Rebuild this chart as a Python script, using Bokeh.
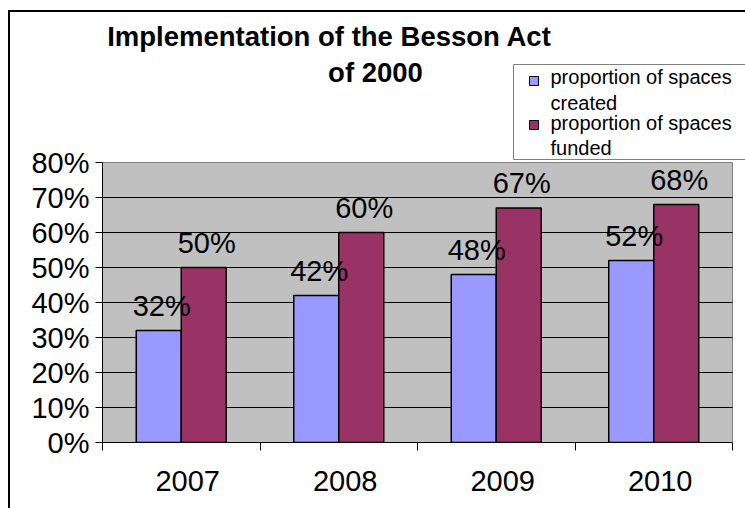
from bokeh.plotting import figure
from bokeh.models import Range1d, FixedTicker, NumeralTickFormatter, Label, BoxAnnotation, ColumnDataSource
from bokeh.core.properties import value
from bokeh.embed import file_html
from bokeh.resources import INLINE

# ---- data ----
years = ["2007", "2008", "2009", "2010"]
created = [0.32, 0.42, 0.48, 0.52]
funded = [0.50, 0.60, 0.67, 0.68]
legend_created = ["proportion of spaces", "created"]
legend_funded = ["proportion of spaces", "funded"]
y_ticks = [0.0, 0.1, 0.2, 0.3, 0.4, 0.5, 0.6, 0.7, 0.8]
grid_ticks = [0.1, 0.2, 0.3, 0.4, 0.5, 0.6, 0.7]
y_max = 0.8
title_lines = ["Implementation of the Besson Act", "of 2000"]

# ---- style / layout ----
FONT = "Liberation Sans"
BLUE = "#9999FF"
MAROON = "#993366"
PLOT_BG = "#C0C0C0"
BAR_W = 1 / 3.5
LABEL_SHIFT = 0.041           # Excel category labels sit slightly right of centre
W, H = 745, 508
LEFT, BOTTOM = 102, 66        # borders around the frame
CAT_PX = 157.5                # pixels per category
AREA_H = 280                  # pixels of the 0..80% plot area

frame_w = W - LEFT
frame_h = H - BOTTOM
n = len(years)
idx = list(range(n))

src = ColumnDataSource(dict(
    x_c=[i + 0.5 - BAR_W / 2 for i in idx],
    x_f=[i + 0.5 + BAR_W / 2 for i in idx],
    created=created,
    funded=funded,
    lab_c=[f"{round(v * 100)}%" for v in created],
    lab_f=[f"{round(v * 100)}%" for v in funded],
))

p = figure(width=W, height=H,
           x_range=Range1d(0, frame_w / CAT_PX),
           y_range=Range1d(0, y_max * frame_h / AREA_H),
           output_backend="svg", toolbar_location=None,
           min_border_left=LEFT, min_border_right=0,
           min_border_top=0, min_border_bottom=BOTTOM)
p.background_fill_color = None
p.border_fill_color = None
p.outline_line_color = None
# outer chart border (left and top edges; the rest lies beyond the window)
p.styles = {"background": "linear-gradient(#000,#000) 8px 10px / 2px 700px no-repeat, "
                          "linear-gradient(#000,#000) 8px 10px / 900px 2px no-repeat, #fff"}

# plot area
p.add_layout(BoxAnnotation(left=0, right=n, bottom=0, top=y_max,
                           fill_color=PLOT_BG, fill_alpha=1,
                           line_color="#808080", line_alpha=1, line_width=1,
                           level="underlay"))
# gridlines
p.segment(x0=[0] * len(grid_ticks), x1=[n] * len(grid_ticks),
          y0=grid_ticks, y1=grid_ticks, line_color="black", line_width=1)
p.xgrid.grid_line_color = None
p.ygrid.grid_line_color = None

p.vbar(x="x_c", top="created", width=BAR_W, bottom=0, source=src,
       fill_color=BLUE, line_color="black", line_width=1.5)
p.vbar(x="x_f", top="funded", width=BAR_W, bottom=0, source=src,
       fill_color=MAROON, line_color="black", line_width=1.5)

for xcol, lcol, vcol in (("x_c", "lab_c", "created"), ("x_f", "lab_f", "funded")):
    p.text(x=xcol, y=vcol, text=lcol, source=src,
           text_font=value(FONT), text_font_size="29px", text_color="black",
           text_align="center", text_baseline="alphabetic",
           x_offset=3, y_offset=-25)

# ---- axes ----
xa = p.xaxis[0]
xa.bounds = (0, n)
xa.ticker = FixedTicker(ticks=[i + 0.5 + LABEL_SHIFT for i in idx],
                        minor_ticks=list(range(n + 1)))
xa.major_label_overrides = {i + 0.5 + LABEL_SHIFT: y for i, y in zip(idx, years)}
xa.major_tick_line_color = None
xa.major_tick_out = 8
xa.major_tick_in = 0
xa.minor_tick_line_color = "black"
xa.minor_tick_out = 8
xa.minor_tick_in = 0
xa.axis_line_color = "black"
xa.major_label_text_font = FONT
xa.major_label_text_font_size = "29px"
xa.major_label_text_color = "black"
xa.major_label_standoff = 20

ya = p.yaxis[0]
ya.bounds = (0, y_max)
ya.ticker = FixedTicker(ticks=y_ticks)
ya.formatter = NumeralTickFormatter(format="0%")
ya.major_tick_out = 7
ya.major_tick_in = 0
ya.major_tick_line_color = "black"
ya.minor_tick_line_color = None
ya.axis_line_color = "black"
ya.major_label_text_font = FONT
ya.major_label_text_font_size = "29px"
ya.major_label_text_color = "black"
ya.major_label_standoff = 6

# ---- title (frame-relative screen px) ----
p.add_layout(Label(x=227, y=406, x_units="screen", y_units="screen",
                   text=title_lines[0], text_font=FONT, text_font_size="27.5px",
                   text_font_style="bold", text_align="center",
                   text_baseline="alphabetic", text_color="black"))
p.add_layout(Label(x=273, y=370, x_units="screen", y_units="screen",
                   text=title_lines[1], text_font=FONT, text_font_size="27.5px",
                   text_font_style="bold", text_align="center",
                   text_baseline="alphabetic", text_color="black"))

# ---- legend (drawn to match the Excel layout) ----
p.add_layout(BoxAnnotation(left=411, right=700, top=378, bottom=283,
                           left_units="screen", right_units="screen",
                           top_units="screen", bottom_units="screen",
                           fill_color="white", fill_alpha=1,
                           line_color="#808080", line_alpha=1, line_width=1,
                           level="overlay"))
for color, top in ((BLUE, 366), (MAROON, 322)):
    p.add_layout(BoxAnnotation(left=427, right=436, top=top, bottom=top - 9,
                               left_units="screen", right_units="screen",
                               top_units="screen", bottom_units="screen",
                               fill_color=color, fill_alpha=1,
                               line_color="black", line_alpha=1, line_width=1,
                               level="overlay"))
for text, y in zip(legend_created + legend_funded, (366, 340, 320, 295)):
    p.add_layout(Label(x=448, y=y, x_units="screen", y_units="screen",
                       text=text, text_font=FONT, text_font_size="20px",
                       text_align="left", text_baseline="alphabetic",
                       text_color="black", level="overlay"))

open("out.html", "w").write(file_html(p, INLINE))
